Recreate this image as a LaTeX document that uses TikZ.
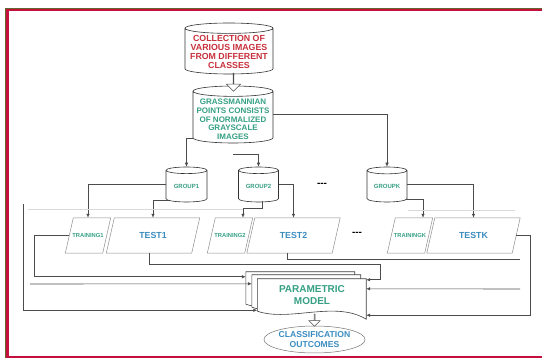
\documentclass[tikz,border=0pt]{standalone}
\usepackage{fontspec}
\setmainfont{Liberation Sans}
\usetikzlibrary{shapes.geometric,shapes.arrows,arrows.meta}

\definecolor{framered}{HTML}{C4103E}
\definecolor{frameolive}{HTML}{66652C}
\definecolor{titlered}{HTML}{C8303C}
\definecolor{tealtext}{HTML}{35A083}
\definecolor{bluetext}{HTML}{3A8CC0}

\begin{document}
\begin{tikzpicture}[x=1pt,y=-1pt]
%\draw[help lines] (0,0) grid (542,358);
\useasboundingbox (0,0) rectangle (542,358);

\tikzset{
db/.style		= {cylinder, shape border rotate=90, draw=black!80, fill=white,
			   line width=0.6pt, align=center, inner sep=0pt, anchor=shape center},
slanted/.style	= {minimum height=35pt, inner sep=0pt},
paraline/.style	= {draw=black!45, line width=0.5pt},
conn/.style		= {draw=black!70, line width=0.6pt},
tip/.style		= {-{Latex[length=4pt,width=3.5pt]}},
faint/.style	= {draw=black!15, line width=0.5pt},
docbox/.style	= {minimum width=108.5pt, minimum height=40pt, inner sep=0pt},
docline/.style	= {draw=black!75, fill=white, line width=0.6pt},
hollow/.style	= {single arrow, draw=black!70, fill=white, line width=0.5pt,
			   shape border rotate=270, inner sep=0pt, single arrow head indent=0pt}
}

\draw[frameolive, line width=0.9pt] (560,8.4) -- (5.4,8.4) -- (5.4,360);
\draw[framered, line width=2.6pt] (560,10.2) -- (7.2,10.2) -- (7.2,357.2) -- (560,357.2);

\node[db, minimum width=88pt, minimum height=51pt, aspect=0.13] (coll) at (229,48.5)
      {\rule{80pt}{0pt}};
\node[text=titlered, align=center, font=\bfseries\fontsize{8.8}{9}\selectfont]
      (colltext) at (229,51.5) {COLLECTION OF\\VARIOUS IMAGES\\FROM DIFFERENT\\CLASSES};
\node[db, minimum width=80pt, minimum height=57pt, aspect=0.14] (grass) at (233,114.5)
      {\rule{74pt}{0pt}};
\node[text=tealtext, align=center, font=\bfseries\fontsize{8}{8.8}\selectfont]
      (grasstext) at (233,119.4)
      {GRASSMANNIAN\\POINTS CONSISTS\\OF NORMALIZED\\GRAYSCALE\\IMAGES};

\node[db, minimum width=41pt, minimum height=35pt, aspect=0.26, text=tealtext,
      font=\bfseries\fontsize{6}{6}\selectfont] (group1) at (186.5,184.5) {GROUP1};
\node[db, minimum width=40pt, minimum height=35pt, aspect=0.26, text=tealtext,
      font=\bfseries\fontsize{6}{6}\selectfont] (group2) at (258.5,184.5) {GROUP2};
\node[db, minimum width=40pt, minimum height=35pt, aspect=0.26, text=tealtext,
      font=\bfseries\fontsize{6}{6}\selectfont] (groupK) at (387,184.5) {GROUPK};
\node[font=\bfseries\fontsize{10}{10}\selectfont] (dotsA) at (322,185) {-{}-{}-};

\node[slanted, minimum width=37pt, text=tealtext,
      font=\bfseries\fontsize{5.8}{6}\selectfont] (train1) at (88,235.5) {TRAINING1};
\node[slanted, minimum width=85pt, text=bluetext,
      font=\bfseries\fontsize{8.8}{9}\selectfont] (test1) at (153,235.5) {TEST1};
\node[slanted, minimum width=37pt, text=tealtext,
      font=\bfseries\fontsize{5.8}{6}\selectfont] (train2) at (230,235.5) {TRAINING2};
\node[slanted, minimum width=85pt, text=bluetext,
      font=\bfseries\fontsize{8.8}{9}\selectfont] (test2) at (293.5,235.5) {TEST2};
\node[font=\bfseries\fontsize{10}{10}\selectfont] (dotsB) at (357,234) {-{}-{}-};
\node[slanted, minimum width=37pt, text=tealtext,
      font=\bfseries\fontsize{5.8}{6}\selectfont] (trainK) at (410,235.5) {TRAININGK};
\node[slanted, minimum width=85pt, text=bluetext,
      font=\bfseries\fontsize{8.8}{9}\selectfont] (testK) at (473.5,235.5) {TESTK};
\foreach \p in {train1,test1,train2,test2,trainK,testK}{
  \draw[paraline] ([xshift=4pt]\p.north west) -- ([xshift=4pt]\p.north east)
    -- ([xshift=-4pt]\p.south east) -- ([xshift=-4pt]\p.south west) -- cycle;
}

\node[docbox] (back) at (300.25,292) {};
\node[docbox] (mid) at (306.25,295) {};
\node[docbox] (model) at (311.75,299) {};
\foreach \d in {back,mid,model}{
  \draw[docline] (\d.north west) -- (\d.north east) -- (\d.south east)
    .. controls ([xshift=-31pt,yshift=19pt]\d.south east)
    and ([xshift=32.5pt,yshift=-3pt]\d.south west) .. ([yshift=8pt]\d.south west) -- cycle;
}
\node[text=tealtext, align=center, font=\bfseries\fontsize{10}{12}\selectfont]
      (modeltext) at (312,295) {PARAMETRIC\\MODEL};

\node[ellipse, draw=black!55, line width=0.5pt, minimum width=97pt, minimum height=27pt,
      inner sep=0pt, align=center, text=bluetext,
      font=\bfseries\fontsize{8.6}{9.6}\selectfont] (outcome) at (314.5,339.5)
      {CLASSIFICATION\\OUTCOMES};

\node[hollow, minimum height=18pt, minimum width=14pt, single arrow head extend=4pt]
      (arrA) at (233.5,82) {};
\node[hollow, minimum height=12pt, minimum width=11pt, single arrow head extend=2.5pt]
      (arrB) at (314.5,320) {};

% groups
\coordinate (g2in) at (233,154);
\draw[conn,tip] ([xshift=-40pt,yshift=-23.5pt]grass.shape center) -| (group1.north);
\draw[conn,tip] (g2in) -| (group2.north);
\draw[conn,tip] ([xshift=40pt]grass.shape center) -| (groupK.north);

\draw[conn,tip] ([xshift=-20.5pt]group1.shape center) -| (train1.north);
\draw[conn,tip] ([xshift=-18pt,yshift=-16pt]group1.shape center) -| (test1.north);
\draw[conn,tip] ([xshift=3.5pt,yshift=-17pt]group2.shape center) -- ++(0,7)
      -| ([xshift=13pt]train2.north);
\draw[conn,tip] ([xshift=20pt]group2.shape center) -| (test2.north);
\draw[conn,tip] ([xshift=19pt,yshift=-15pt]groupK.shape center) -| ([xshift=13pt]trainK.north);
\draw[conn,tip] ([xshift=20pt]groupK.shape center) -| (testK.north);

\coordinate (fa) at (28,209);
\coordinate (fb) at (243,209);
\coordinate (fc) at (408,210);
\coordinate (fd) at (515,210);
\draw[faint] (fa) -- (fb);
\draw[faint] (fc) -- (fd);

% into the model
\coordinate (l2) at (30,284);
\coordinate (l3) at (23,204);
\coordinate (r2) at (520,259);
\coordinate (r3) at (520,289);
\draw[conn,tip] (train1.west) -- ++(-35,0) |- ([yshift=-5pt]back.north west);
\draw[conn,tip] (l2) -- ([yshift=-9pt]mid.north west);
\draw[conn,tip] (l3) |- ([yshift=9pt]model.south west);
\draw[conn,tip] ([xshift=-4pt]test1.south) |- ([xshift=14pt,yshift=14pt]model.north east)
      -- ([xshift=14pt,yshift=-1pt]model.north east) -- ([yshift=-1pt]model.north east);
\draw[conn] ([xshift=-6.5pt]test2.south) |- (r2);
\draw[conn,tip] (r3) -- ([yshift=-10pt]model.north east);
\draw[conn,tip] (testK.east) -- ++(14.5,0) |- ([yshift=4pt]model.south east);

\end{tikzpicture}
\end{document}
